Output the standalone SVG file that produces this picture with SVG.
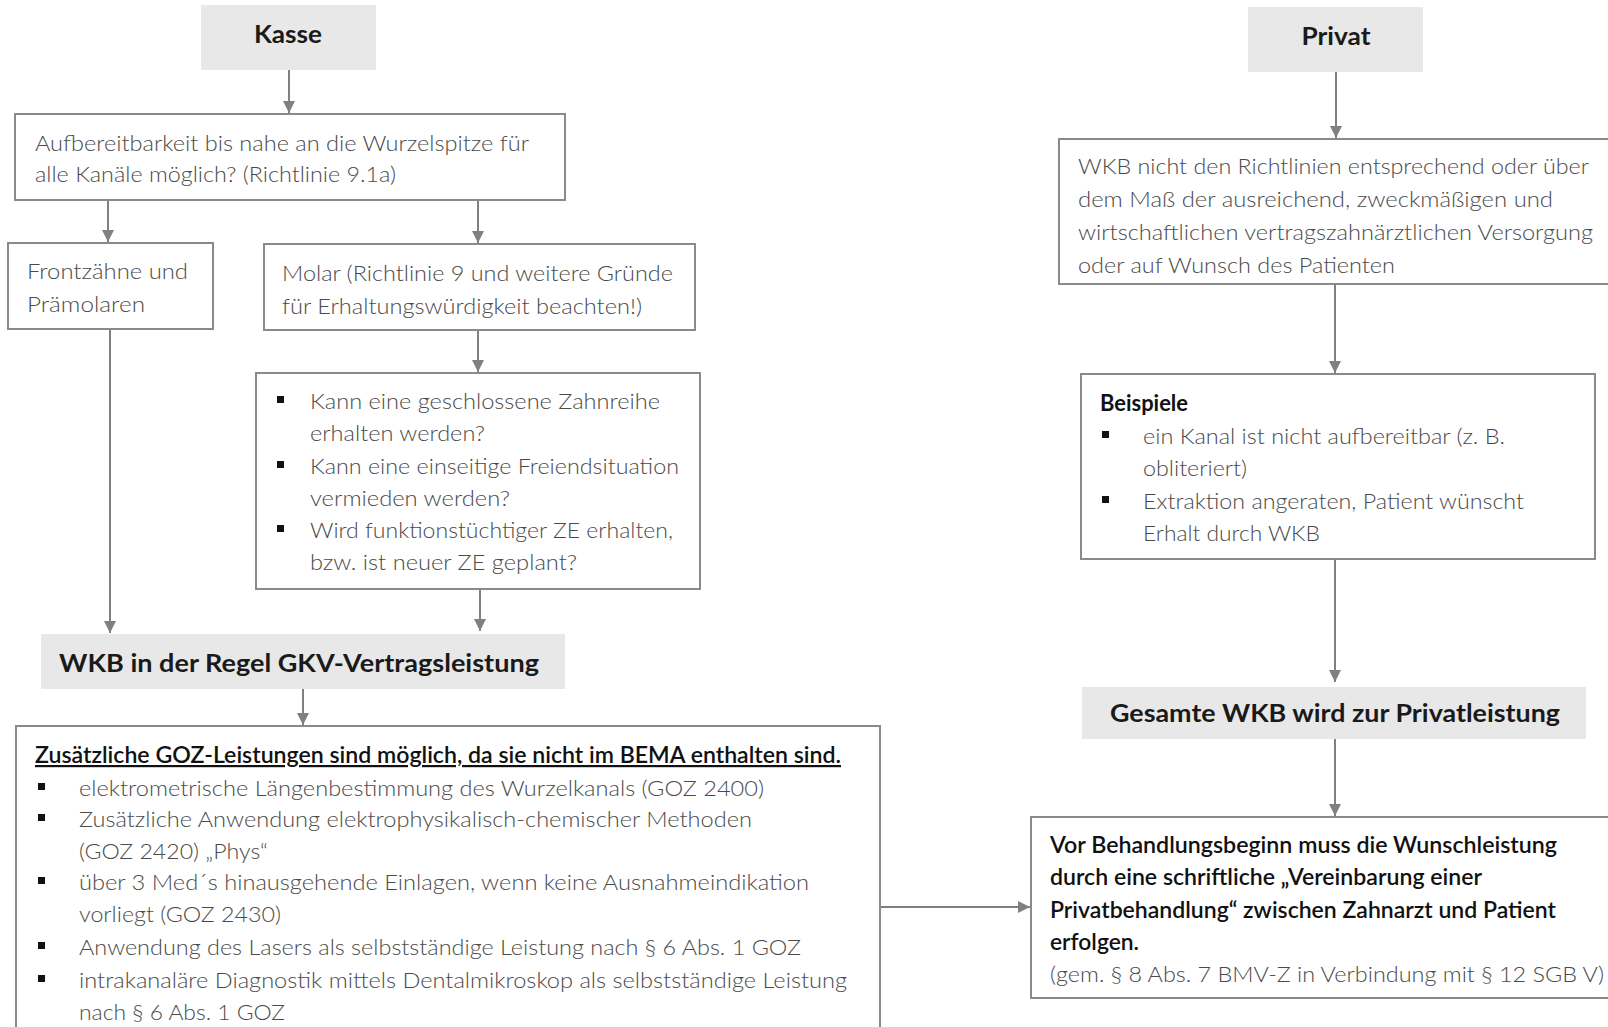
<svg xmlns="http://www.w3.org/2000/svg" width="1608" height="1027" viewBox="0 0 1608 1027">
<style>
.box{fill:#ffffff;stroke:#8a8a8a;stroke-width:2}
.hbox{fill:#e8e8e8}
.t{font-family:Lato,"Open Sans","Liberation Sans",sans-serif;font-size:22px;font-weight:300;fill:#4a4a4a}
.h{font-family:Lato,"Open Sans","Liberation Sans",sans-serif;font-size:24px;font-weight:700;fill:#1a1a1a}
.k{font-family:Lato,"Open Sans","Liberation Sans",sans-serif;font-size:22px;font-weight:600;fill:#111111}
.kb{font-family:Lato,"Open Sans","Liberation Sans",sans-serif;font-size:22px;font-weight:700;fill:#111111}
.u{text-decoration:underline}
.b{fill:#111111}
.c{stroke:#808080;stroke-width:2;fill:none;marker-end:url(#ah)}
</style>
<defs>
<marker id="ah" markerUnits="userSpaceOnUse" markerWidth="12" markerHeight="12" refX="12" refY="6" orient="auto">
<path d="M0,0 L12,6 L0,12 z" fill="#808080"/>
</marker>
</defs>
<rect x="0" y="0" width="1608" height="1027" fill="#ffffff"/>

<g id="connectors">
<line class="c" x1="289" y1="70" x2="289" y2="113"/>
<line class="c" x1="108" y1="200" x2="108" y2="242"/>
<line class="c" x1="478" y1="200" x2="478" y2="243"/>
<line class="c" x1="478" y1="330" x2="478" y2="372"/>
<line class="c" x1="110" y1="329" x2="110" y2="633"/>
<line class="c" x1="480" y1="589" x2="480" y2="631"/>
<line class="c" x1="303" y1="689" x2="303" y2="725"/>
<line class="c" x1="881" y1="907" x2="1030" y2="907"/>
<line class="c" x1="1336" y1="72" x2="1336" y2="138"/>
<line class="c" x1="1335" y1="284" x2="1335" y2="373"/>
<line class="c" x1="1335" y1="559" x2="1335" y2="682"/>
<line class="c" x1="1335" y1="739" x2="1335" y2="816"/>
</g>

<g id="kasse">
<rect class="hbox" x="201" y="5" width="175" height="65"/>
<text class="h" x="288" y="43" text-anchor="middle" textLength="68" lengthAdjust="spacingAndGlyphs">Kasse</text>
</g>

<g id="aufbereitbarkeit">
<rect class="box" x="15" y="114" width="550" height="86"/>
<text class="t" x="35" y="151" textLength="494" lengthAdjust="spacingAndGlyphs">Aufbereitbarkeit bis nahe an die Wurzelspitze für</text>
<text class="t" x="35" y="182" textLength="361" lengthAdjust="spacingAndGlyphs">alle Kanäle möglich? (Richtlinie 9.1a)</text>
</g>

<g id="frontzaehne">
<rect class="box" x="8" y="243" width="205" height="86"/>
<text class="t" x="27" y="279" textLength="161" lengthAdjust="spacingAndGlyphs">Frontzähne und</text>
<text class="t" x="27" y="312" textLength="118" lengthAdjust="spacingAndGlyphs">Prämolaren</text>
</g>

<g id="molar">
<rect class="box" x="264" y="244" width="431" height="86"/>
<text class="t" x="282" y="281" textLength="391" lengthAdjust="spacingAndGlyphs">Molar (Richtlinie 9 und weitere Gründe</text>
<text class="t" x="282" y="314" textLength="360" lengthAdjust="spacingAndGlyphs">für Erhaltungswürdigkeit beachten!)</text>
</g>

<g id="fragen">
<rect class="box" x="256" y="373" width="444" height="216"/>
<rect class="b" x="277" y="396" width="7" height="7"/>
<rect class="b" x="277" y="461" width="7" height="7"/>
<rect class="b" x="277" y="525" width="7" height="7"/>
<text class="t" x="310" y="409" textLength="350" lengthAdjust="spacingAndGlyphs">Kann eine geschlossene Zahnreihe</text>
<text class="t" x="310" y="441" textLength="175" lengthAdjust="spacingAndGlyphs">erhalten werden?</text>
<text class="t" x="310" y="474" textLength="369" lengthAdjust="spacingAndGlyphs">Kann eine einseitige Freiendsituation</text>
<text class="t" x="310" y="506" textLength="200" lengthAdjust="spacingAndGlyphs">vermieden werden?</text>
<text class="t" x="310" y="538" textLength="363" lengthAdjust="spacingAndGlyphs">Wird funktionstüchtiger ZE erhalten,</text>
<text class="t" x="310" y="570" textLength="267" lengthAdjust="spacingAndGlyphs">bzw. ist neuer ZE geplant?</text>
</g>

<g id="gkv">
<rect class="hbox" x="41" y="634" width="524" height="55"/>
<text class="h" x="59" y="672" textLength="480" lengthAdjust="spacingAndGlyphs">WKB in der Regel GKV-Vertragsleistung</text>
</g>

<g id="goz">
<rect class="box" x="16" y="726" width="864" height="330"/>
<text class="k u" x="35" y="763" textLength="806" lengthAdjust="spacingAndGlyphs">Zusätzliche GOZ-Leistungen sind möglich, da sie nicht im BEMA enthalten sind.</text>
<rect class="b" x="38" y="783" width="7" height="7"/>
<rect class="b" x="38" y="814" width="7" height="7"/>
<rect class="b" x="38" y="877" width="7" height="7"/>
<rect class="b" x="38" y="942" width="7" height="7"/>
<rect class="b" x="38" y="975" width="7" height="7"/>
<text class="t" x="79" y="796" textLength="685" lengthAdjust="spacingAndGlyphs">elektrometrische Längenbestimmung des Wurzelkanals (GOZ 2400)</text>
<text class="t" x="79" y="827" textLength="673" lengthAdjust="spacingAndGlyphs">Zusätzliche Anwendung elektrophysikalisch-chemischer Methoden</text>
<text class="t" x="79" y="859" textLength="189" lengthAdjust="spacingAndGlyphs">(GOZ 2420) „Phys“</text>
<text class="t" x="79" y="890" textLength="730" lengthAdjust="spacingAndGlyphs">über 3 Med´s hinausgehende Einlagen, wenn keine Ausnahmeindikation</text>
<text class="t" x="79" y="922" textLength="202" lengthAdjust="spacingAndGlyphs">vorliegt (GOZ 2430)</text>
<text class="t" x="79" y="955" textLength="722" lengthAdjust="spacingAndGlyphs">Anwendung des Lasers als selbstständige Leistung nach § 6 Abs. 1 GOZ</text>
<text class="t" x="79" y="988" textLength="768" lengthAdjust="spacingAndGlyphs">intrakanaläre Diagnostik mittels Dentalmikroskop als selbstständige Leistung</text>
<text class="t" x="79" y="1020" textLength="206" lengthAdjust="spacingAndGlyphs">nach § 6 Abs. 1 GOZ</text>
</g>

<g id="privat">
<rect class="hbox" x="1248" y="7" width="175" height="65"/>
<text class="h" x="1336" y="45" text-anchor="middle" textLength="69" lengthAdjust="spacingAndGlyphs">Privat</text>
</g>

<g id="wkb-nicht">
<rect class="box" x="1059" y="139" width="570" height="145"/>
<text class="t" x="1078" y="174" textLength="511" lengthAdjust="spacingAndGlyphs">WKB nicht den Richtlinien entsprechend oder über</text>
<text class="t" x="1078" y="207" textLength="475" lengthAdjust="spacingAndGlyphs">dem Maß der ausreichend, zweckmäßigen und</text>
<text class="t" x="1078" y="240" textLength="515" lengthAdjust="spacingAndGlyphs">wirtschaftlichen vertragszahnärztlichen Versorgung</text>
<text class="t" x="1078" y="273" textLength="317" lengthAdjust="spacingAndGlyphs">oder auf Wunsch des Patienten</text>
</g>

<g id="beispiele">
<rect class="box" x="1081" y="374" width="514" height="185"/>
<text class="kb" x="1100" y="411" textLength="88" lengthAdjust="spacingAndGlyphs">Beispiele</text>
<rect class="b" x="1102" y="431" width="7" height="7"/>
<rect class="b" x="1102" y="496" width="7" height="7"/>
<text class="t" x="1143" y="444" textLength="362" lengthAdjust="spacingAndGlyphs">ein Kanal ist nicht aufbereitbar (z. B.</text>
<text class="t" x="1143" y="476" textLength="104" lengthAdjust="spacingAndGlyphs">obliteriert)</text>
<text class="t" x="1143" y="509" textLength="381" lengthAdjust="spacingAndGlyphs">Extraktion angeraten, Patient wünscht</text>
<text class="t" x="1143" y="541" textLength="177" lengthAdjust="spacingAndGlyphs">Erhalt durch WKB</text>
</g>

<g id="gesamte">
<rect class="hbox" x="1082" y="687" width="504" height="52"/>
<text class="h" x="1335" y="722" text-anchor="middle" textLength="450" lengthAdjust="spacingAndGlyphs">Gesamte WKB wird zur Privatleistung</text>
</g>

<g id="vereinbarung">
<rect class="box" x="1031" y="817" width="590" height="181"/>
<text class="k" x="1050" y="853" textLength="507" lengthAdjust="spacingAndGlyphs">Vor Behandlungsbeginn muss die Wunschleistung</text>
<text class="k" x="1050" y="885" textLength="432" lengthAdjust="spacingAndGlyphs">durch eine schriftliche „Vereinbarung einer</text>
<text class="k" x="1050" y="918" textLength="506" lengthAdjust="spacingAndGlyphs">Privatbehandlung“ zwischen Zahnarzt und Patient</text>
<text class="k" x="1050" y="950" textLength="89" lengthAdjust="spacingAndGlyphs">erfolgen.</text>
<text class="t" x="1050" y="982" textLength="554" lengthAdjust="spacingAndGlyphs">(gem. § 8 Abs. 7 BMV-Z in Verbindung mit § 12 SGB V)</text>
</g>
</svg>
